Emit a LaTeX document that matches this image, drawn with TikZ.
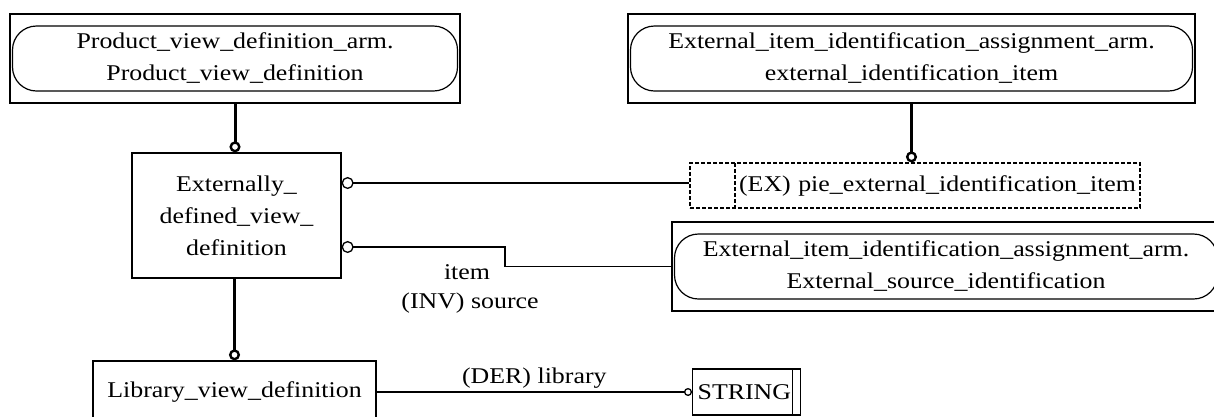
\documentclass[tikz,border=0pt]{standalone}
\usepackage{fontspec}
\setmainfont{Liberation Serif}[FakeStretch=1.15]
\usepackage{tikz}
\usetikzlibrary{arrows.meta}
\newcommand{\diagfont}{\fontsize{22.5pt}{32pt}\selectfont}
\tikzstyle{pageBox} = [rectangle, draw, line width=1.5pt, minimum height=89pt, align=center, path picture={\draw[line width=1.2pt, rounded corners=24pt] ([xshift=2.5pt,yshift=-12pt]path picture bounding box.north west) rectangle ([xshift=-2.5pt,yshift=12pt]path picture bounding box.south east);}]
\tikzstyle{entityBox} = [rectangle, draw, line width=1.3pt, align=center]
\tikzstyle{selectBox} = [rectangle, draw, dash pattern=on 4pt off 2pt, line width=1.2pt, minimum height=45pt, inner xsep=4pt, text width=442pt, align=right, path picture={\draw[dash pattern=on 4pt off 2pt, line width=1.2pt] ([xshift=45pt]path picture bounding box.north west) -- ([xshift=45pt]path picture bounding box.south west);}]
\tikzstyle{typeBox} = [rectangle, draw, line width=1.3pt, minimum height=46pt, inner xsep=5pt, text width=98pt, align=left, path picture={\draw[line width=1.3pt] ([xshift=-8pt]path picture bounding box.north east) -- ([xshift=-8pt]path picture bounding box.south east);}]
\tikzstyle{subline} = [line width=3pt, -{Circle[open,length=11pt,width=11pt,line width=2.4pt]}]
\tikzstyle{attrline} = [line width=1.3pt, {Circle[open,length=12pt,width=12pt]}-]
\tikzstyle{typeline} = [line width=1.3pt, -{Circle[open,length=8pt,width=8pt]}]

\begin{document}
\begin{tikzpicture}[node distance=157pt, x=1pt, y=-1pt, font=\diagfont]
    \useasboundingbox (0,0) rectangle (1214,416);
    % Entities
    \node (pvd) [pageBox, minimum width=450pt] at (235,58.5) {Product\_view\_definition\_arm.\\Product\_view\_definition};
    \node (edvd) [entityBox, below of=pvd, xshift=1.5pt, minimum width=209pt, minimum height=125pt] {Externally\_\\defined\_view\_\\definition};
    \node (lvd) [entityBox, below of=edvd, xshift=-2pt, yshift=-19.5pt, minimum width=283pt, minimum height=62pt] {Library\_view\_definition};
    % External items
    \node (extid) [pageBox, right of=pvd, xshift=519.5pt, minimum width=567pt] {External\_item\_identification\_assignment\_arm.\\external\_identification\_item};
    \node (pie) [selectBox, below of=extid, xshift=3.5pt, yshift=30pt] {(EX) pie\_external\_identification\_item};
    \node (extsrc) [pageBox, below of=pie, xshift=31pt, yshift=76pt, minimum width=548pt] {External\_item\_identification\_assignment\_arm.\\External\_source\_identification};
    % Simple type
    \node (string) [typeBox, anchor=west] at (692,392) {STRING};

    \draw [subline] (pvd.south) -- (pvd.south |- edvd.north);
    \draw [subline] (extid.south) -- (extid.south |- pie.north);
    \draw [subline] (lvd.north |- edvd.south) -- (lvd.north);
    %
    \draw [attrline] ([yshift=32.5pt]edvd.east) -- ([yshift=32.5pt]edvd.east -| pie.west);
    \coordinate (bend) at (505,256);
    \draw [attrline] ([yshift=-31.5pt]edvd.east) -| (bend) |- (extsrc.west);
    \node (role) at (467,272) {item};
    \node (inverse) at (470,303) {(INV) source};
    %
    \draw [typeline] (lvd.east) -- node[above] (derived) {(DER) library} (string.west);

\end{tikzpicture}
\end{document}
